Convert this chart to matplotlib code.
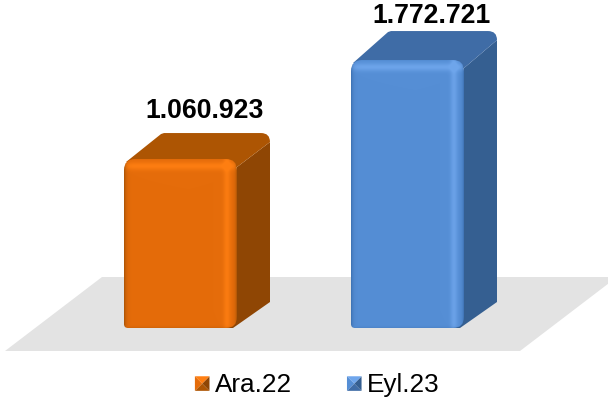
import numpy as np
import matplotlib
matplotlib.use("Agg")
import matplotlib.pyplot as plt
from matplotlib.path import Path
from matplotlib.patches import PathPatch, Polygon
from matplotlib.legend_handler import HandlerBase
from matplotlib.transforms import IdentityTransform

categories = ["Ara.22", "Eyl.23"]
values = [1060923, 1772721]
value_labels = ["1.060.923", "1.772.721"]
front_colors = ["#E56C0A", "#558ED5"]
top_colors = ["#AD5503", "#3F6CA6"]
side_colors = ["#8F4604", "#355F91"]
highlight_colors = ["#FF7F12", "#6FA6EC"]
edge_colors = ["#A45206", "#3B6EAE"]
label_offsets_px = [41, 37]
top_depths_px = [26, 29]

W, H = 608, 405
plt.rcParams["font.family"] = ["Liberation Sans", "DejaVu Sans"]
fig = plt.figure(figsize=(W / 100, H / 100), dpi=100)
ax = fig.add_axes([0, 0, 1, 1])
ax.axis("off")

CX0, DXP = 180.5, 227.0
VPP, Y0 = 7190.0, 306.6
ax.set_xlim(-CX0 / DXP, (W - CX0) / DXP)
ax.set_ylim(-(H - Y0) * VPP, Y0 * VPP)
BASE = -(328 - Y0) * VPP
BAR_W = 113 / DXP
DEPTH_X, DEPTH_Y = 33, 26


def rounded(x0, y0, x1, y1, r, rb=None):
    rb = r if rb is None else rb
    k = Path.CURVE3
    verts = [(x0 + rb, y0), (x1 - r, y0), (x1, y0), (x1, y0 + r), (x1, y1 - r), (x1, y1),
             (x1 - r, y1), (x0 + r, y1), (x0, y1), (x0, y1 - r), (x0, y0 + rb), (x0, y0),
             (x0 + rb, y0), (x0 + rb, y0)]
    codes = [Path.MOVETO, Path.LINETO, k, k, Path.LINETO, k, k, Path.LINETO, k, k,
             Path.LINETO, k, k, Path.CLOSEPOLY]
    return Path(verts, codes)


def rgb(c):
    return np.array(matplotlib.colors.to_rgb(c))


floor_px = [(5, 351), (520, 351), (617, 277), (102, 277)]
ax.add_patch(PathPatch(Path([(x, H - y) for x, y in floor_px] + [(5, H - 351)], closed=True),
                       transform=IdentityTransform(), fc="#E3E3E3", ec="none", zorder=1))

for i, (cat, v) in enumerate(zip(categories, values)):
    left_d, top_d = ax.transData.transform((i - BAR_W / 2, v))
    right_d, base_d = ax.transData.transform((i + BAR_W / 2, BASE))
    dx, dy, dyt = DEPTH_X, DEPTH_Y, top_depths_px[i]
    k = Path.CURVE3

    side = Path([(right_d - 12, base_d), (right_d - 4, base_d), (right_d + dx, base_d + dy),
                 (right_d + dx, top_d + dyt - 9), (right_d, top_d - 8), (right_d - 12, base_d)],
                [Path.MOVETO, Path.LINETO, Path.LINETO, Path.LINETO, Path.LINETO, Path.CLOSEPOLY])
    ax.add_patch(PathPatch(side, transform=IdentityTransform(), fc=side_colors[i], ec="none", zorder=2))

    top = Path([(left_d + 2, top_d - 3), (left_d + dx + 4, top_d + dyt - 1), (left_d + dx + 7, top_d + dyt),
                (right_d + dx - 9, top_d + dyt), (right_d + dx, top_d + dyt), (right_d + dx, top_d + dyt - 9),
                (right_d, top_d - 8), (left_d + 2, top_d - 3)],
               [Path.MOVETO, Path.LINETO, Path.LINETO, Path.LINETO, k, k, Path.LINETO, Path.CLOSEPOLY])
    ax.add_patch(PathPatch(top, transform=IdentityTransform(), fc=top_colors[i], ec="none", zorder=3))

    nx, ny = int(right_d - left_d), int(top_d - base_d)
    xs = np.arange(nx)[None, :] + 0.5
    ys = np.arange(ny)[:, None] + 0.5
    base_col, hi, edge = rgb(front_colors[i]), rgb(highlight_colors[i]), rgb(edge_colors[i])
    img = np.ones((ny, nx, 3)) * base_col
    a_hi_top = 0.9 * np.exp(-((ys - 7) / 4.0) ** 2) * np.ones_like(xs)
    a_hi_right = 0.8 * np.exp(-((xs - (nx - 10)) / 3.5) ** 2) * np.ones_like(ys)
    a_hi = np.clip(a_hi_top + a_hi_right, 0, 1)[..., None]
    img = img * (1 - a_hi) + hi * a_hi
    a_edge = np.maximum(np.exp(-xs / 2.0) * np.ones_like(ys),
                        np.exp(-(nx - xs) / 1.5) * np.ones_like(ys))
    a_edge = np.clip(np.maximum(a_edge, np.exp(-(ny - ys) / 1.2) * 0.4), 0, 1)[..., None]
    img = img * (1 - a_edge) + edge * a_edge
    im = ax.imshow(img, extent=(i - BAR_W / 2, i + BAR_W / 2, BASE, v), origin="upper",
                   aspect="auto", zorder=4, interpolation="bilinear")
    clip = PathPatch(rounded(left_d, base_d, right_d, top_d, 11, rb=4), transform=IdentityTransform(),
                     fc="none", ec="none")
    ax.add_patch(clip)
    im.set_clip_path(clip)

    ax.annotate(value_labels[i], (i, v), xytext=(24.5 * 0.72, label_offsets_px[i] * 0.72),
                textcoords="offset points", ha="center", va="baseline", fontsize=19.2,
                fontweight="bold", color="black", zorder=6)

ax.set_xlim(-CX0 / DXP, (W - CX0) / DXP)
ax.set_ylim(-(H - Y0) * VPP, Y0 * VPP)


class Pyramid:
    def __init__(self, i):
        self.i = i


class PyramidHandler(HandlerBase):
    def create_artists(self, legend, orig, xd, yd, w, h, fs, trans):
        i = orig.i
        s = 10.5
        x0 = w - s
        y0 = (h - s) / 2 - 0.5
        c = (x0 + s / 2, y0 + s / 2)
        a, b, cc, d = (x0, y0), (x0 + s, y0), (x0 + s, y0 + s), (x0, y0 + s)
        out = []
        for pts, col in [((a, b, c), top_colors[i]), ((b, cc, c), side_colors[i]),
                         ((cc, d, c), highlight_colors[i]), ((d, a, c), front_colors[i])]:
            out.append(Polygon(pts, closed=True, fc=col, ec="none", transform=trans))
        return out


handles = [Pyramid(0), Pyramid(1)]
ax.legend(handles, categories, handler_map={Pyramid: PyramidHandler()}, frameon=False,
          ncols=2, loc="center", bbox_to_anchor=(317 / W, 1 - 385 / H), fontsize=18.8,
          handlelength=0.57, handletextpad=0.2, columnspacing=2.1, borderpad=0, labelspacing=0)

fig.savefig("out.png", dpi=100, facecolor="white")
